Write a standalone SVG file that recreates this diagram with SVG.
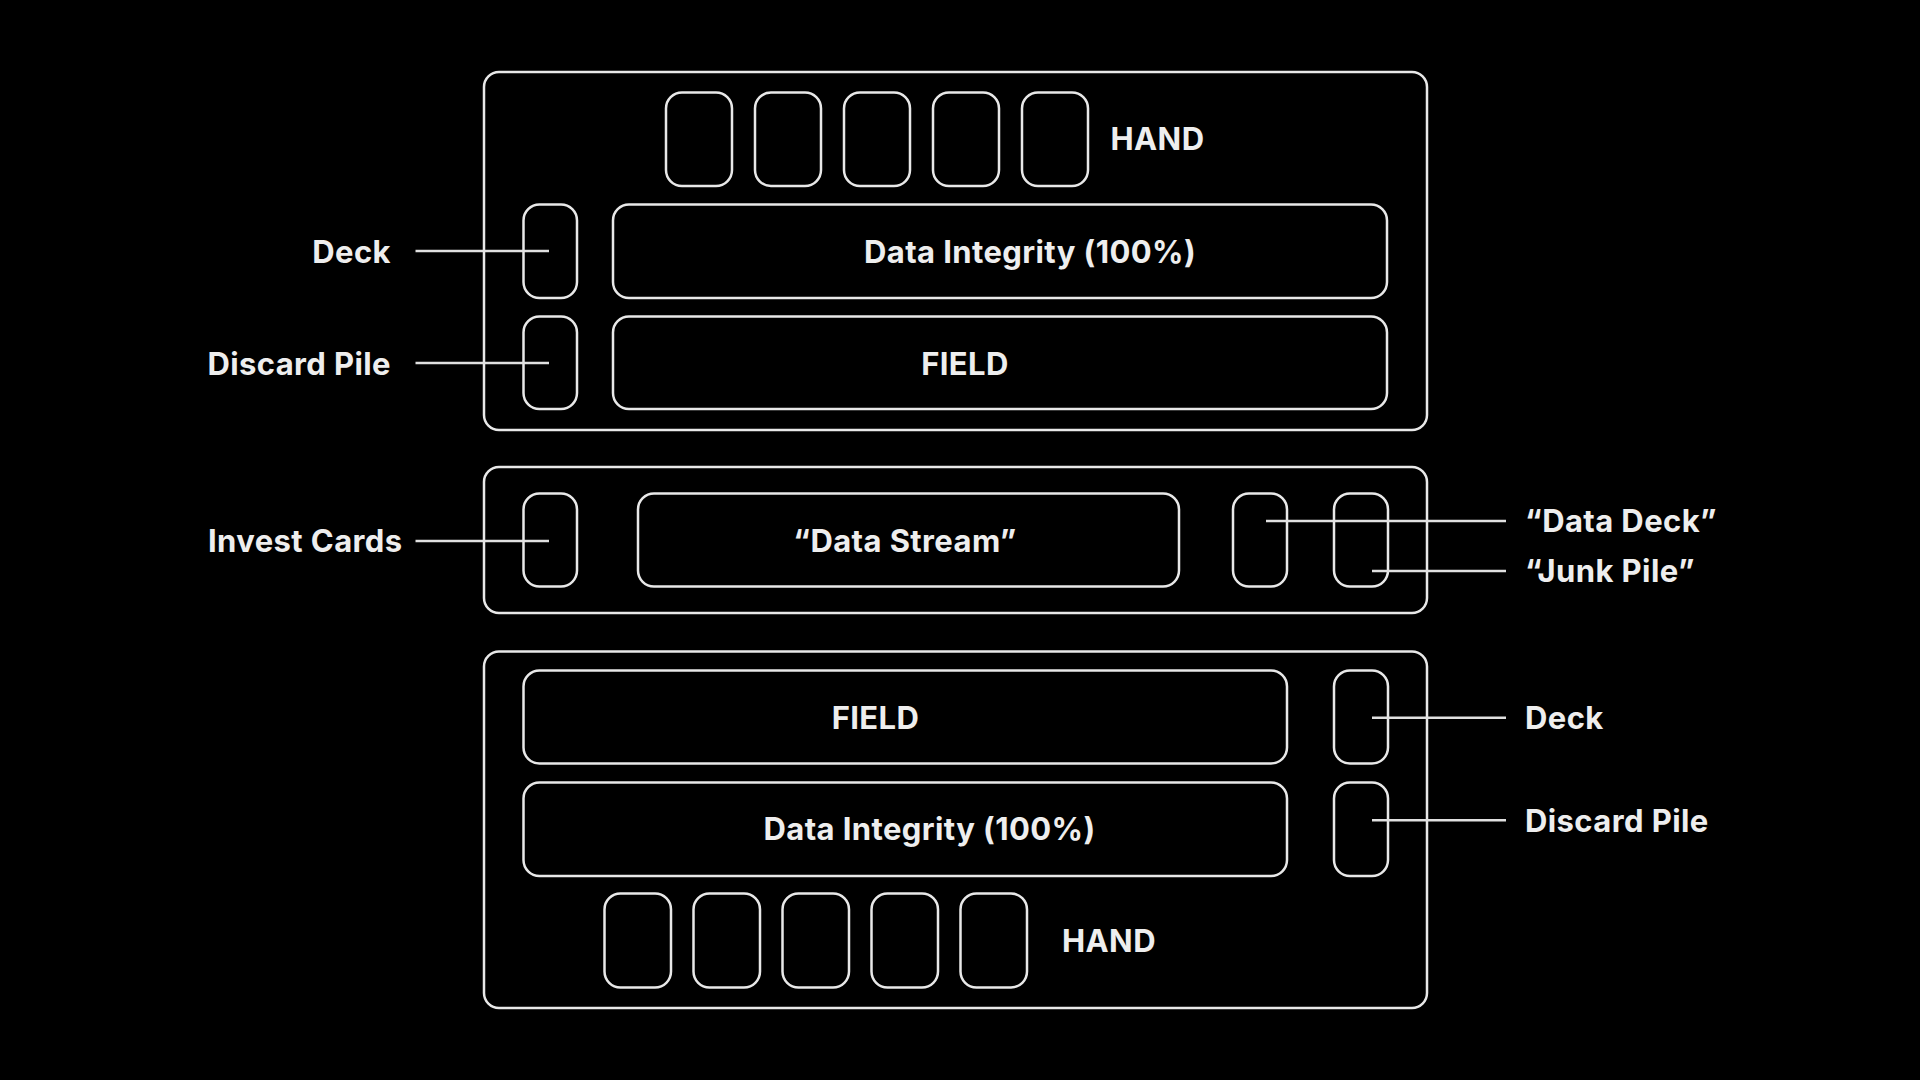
<svg xmlns="http://www.w3.org/2000/svg" width="1920" height="1080" viewBox="0 0 1920 1080">
  <style>
    .box { fill: none; stroke: #e8e8e8; stroke-width: 2.5; }
    .panel { rx: 15px; }
    .card { rx: 16px; }
    .line { stroke: #e0e0e0; stroke-width: 2.5; fill: none; }
    text { font-family: Inter, "Noto Sans", "Liberation Sans", sans-serif; font-weight: 700; font-size: 31px; letter-spacing: 0.4px; fill: #eeeeee; }
    .mid { text-anchor: middle; }
    .end { text-anchor: end; }
  </style>
  <rect x="0" y="0" width="1920" height="1080" fill="#000000"/>

  <g id="player-top">
    <rect id="panel-top" class="box panel" x="484" y="72" width="943" height="358"/>
    <g id="hand-top">
      <rect class="box card" x="666" y="92.5" width="66" height="93.5"/>
      <rect class="box card" x="755" y="92.5" width="66" height="93.5"/>
      <rect class="box card" x="844" y="92.5" width="66" height="93.5"/>
      <rect class="box card" x="933" y="92.5" width="66" height="93.5"/>
      <rect class="box card" x="1022" y="92.5" width="66" height="93.5"/>
      <text x="1110.5" y="150">HAND</text>
    </g>
    <g id="deck-top">
      <rect class="box card" x="523.5" y="204.5" width="53.5" height="93.5"/>
      <text class="end" x="391" y="262.5">Deck</text>
    </g>
    <g id="integrity-top">
      <rect class="box card" x="613" y="204.5" width="774" height="93.5"/>
      <text class="mid" x="1030" y="263">Data Integrity (100%)</text>
    </g>
    <g id="discard-top">
      <rect class="box card" x="523.5" y="316.5" width="53.5" height="92.5"/>
      <text class="end" x="391" y="374.5">Discard Pile</text>
    </g>
    <g id="field-top">
      <rect class="box card" x="613" y="316.5" width="774" height="92.5"/>
      <text class="mid" x="965" y="374.5">FIELD</text>
    </g>
  </g>

  <g id="shared">
    <rect id="panel-mid" class="box panel" x="484" y="467" width="943" height="146"/>
    <g id="invest">
      <rect class="box card" x="523.5" y="493.5" width="53.5" height="93"/>
      <text x="208" y="552">Invest Cards</text>
    </g>
    <g id="data-stream">
      <rect class="box card" x="638" y="493.5" width="541" height="93"/>
      <text class="mid" x="905" y="551.5">“Data Stream”</text>
    </g>
    <g id="data-deck">
      <rect class="box card" x="1233" y="493.5" width="54" height="93"/>
      <text x="1525" y="532">“Data Deck”</text>
    </g>
    <g id="junk-pile">
      <rect class="box card" x="1334" y="493.5" width="54" height="93"/>
      <text x="1525" y="582">“Junk Pile”</text>
    </g>
  </g>

  <g id="player-bottom">
    <rect id="panel-bottom" class="box panel" x="484" y="651.5" width="943" height="356.5"/>
    <g id="field-bottom">
      <rect class="box card" x="523.5" y="670.5" width="763.5" height="93"/>
      <text class="mid" x="875.5" y="729.3">FIELD</text>
    </g>
    <g id="integrity-bottom">
      <rect class="box card" x="523.5" y="782.5" width="763.5" height="93.5"/>
      <text class="mid" x="929.5" y="840">Data Integrity (100%)</text>
    </g>
    <g id="deck-bottom">
      <rect class="box card" x="1334" y="670.5" width="54" height="93"/>
      <text x="1525" y="729">Deck</text>
    </g>
    <g id="discard-bottom">
      <rect class="box card" x="1334" y="782.5" width="54" height="93.5"/>
      <text x="1525" y="831.7">Discard Pile</text>
    </g>
    <g id="hand-bottom">
      <rect class="box card" x="604.5" y="893.5" width="66.5" height="94"/>
      <rect class="box card" x="693.5" y="893.5" width="66.5" height="94"/>
      <rect class="box card" x="782.5" y="893.5" width="66.5" height="94"/>
      <rect class="box card" x="871.5" y="893.5" width="66.5" height="94"/>
      <rect class="box card" x="960.5" y="893.5" width="66.5" height="94"/>
      <text x="1062" y="951.7">HAND</text>
    </g>
  </g>

  <g id="connectors">
    <line class="line" x1="415.5" y1="251" x2="549" y2="251"/>
    <line class="line" x1="415.5" y1="363" x2="549" y2="363"/>
    <line class="line" x1="415.5" y1="541" x2="549" y2="541"/>
    <line class="line" x1="1266" y1="521" x2="1506" y2="521"/>
    <line class="line" x1="1372" y1="571" x2="1506" y2="571"/>
    <line class="line" x1="1372" y1="717.7" x2="1506" y2="717.7"/>
    <line class="line" x1="1372" y1="820.3" x2="1506" y2="820.3"/>
  </g>
</svg>
